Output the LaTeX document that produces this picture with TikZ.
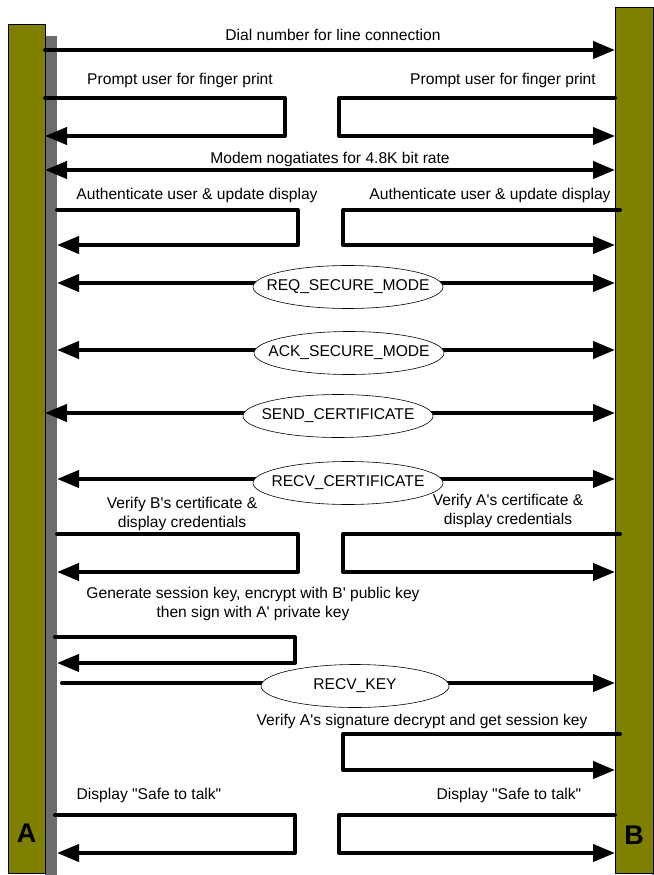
\documentclass[tikz,border=0pt]{standalone}
\usepackage{fontspec}
\setmainfont{Liberation Sans}
\usetikzlibrary{arrows.meta,shapes.geometric}
\definecolor{olivebar}{RGB}{128,128,0}
\definecolor{shadowgray}{RGB}{108,108,108}
\newcommand{\sq}{\textquotesingle}
\newcommand{\dq}{\textquotedbl}
\begin{document}
\begin{tikzpicture}[x=1pt,y=-1pt,
  bar/.style={draw=black, line width=0.6pt, fill=olivebar, inner sep=0pt, outer sep=0pt},
  shadowbar/.style={fill=shadowgray, inner sep=0pt, outer sep=0pt},
  msg/.style={line width=4pt, line join=round, line cap=round},
  tipr/.style={-{Triangle[length=22pt,width=17pt]}},
  tipb/.style={{Triangle[length=22pt,width=17pt]}-{Triangle[length=22pt,width=17pt]}},
  lbl/.style={font=\fontsize{15.6}{19.5}\selectfont, inner sep=0pt, align=center},
  oval/.style={ellipse, draw=black, line width=0.6pt, fill=white, inner sep=0pt,
    minimum width=190pt, minimum height=43pt},
  endlbl/.style={font=\fontsize{27}{30}\bfseries\selectfont, inner sep=0pt}
]
\useasboundingbox (0,0) rectangle (653,875);
% bars
\node[shadowbar, minimum width=12pt, minimum height=839pt, anchor=north west] (shA) at (45,36) {};
\node[bar, minimum width=37pt, minimum height=849pt, anchor=north west] (barA) at (8,24) {};
\node[shadowbar, minimum width=12pt, minimum height=857pt, anchor=north west] (shB) at (652,18) {};
\node[bar, minimum width=38pt, minimum height=866pt, anchor=north west] (barB) at (615,7) {};
\node[endlbl] (labA) at (26.5,833) {A};
\node[endlbl] (labB) at (634,835) {B};

% row 1
\node[lbl] (t1) at (333,35) {Dial number for line connection};
\draw[msg,tipr] (barA.east |- 0,50) -- (barB.west |- 0,50);

% row 2
\node[lbl] (t2a) at (180,80) {Prompt user for finger print};
\node[lbl] (t2b) at (503,80) {Prompt user for finger print};
\draw[msg,tipr] (barA.east |- 0,98) -- (285,98) -- (285,136) -- (barA.east |- 0,136);
\draw[msg,tipr] (barB.west |- 0,98) -- (339,98) -- (339,136) -- (barB.west |- 0,136);

% row 3
\node[lbl] (t3) at (330,159) {Modem nogatiates for 4.8K bit rate};
\draw[msg,tipb] (barA.east |- 0,170) -- (barB.west |- 0,170);

% row 4
\node[lbl] (t4a) at (197,195) {Authenticate user \& update display};
\node[lbl] (t4b) at (490,195) {Authenticate user \& update display};
\draw[msg,tipr] (shA.east |- 0,210) -- (298,210) -- (298,245) -- (shA.east |- 0,245);
\draw[msg,tipr] ([xshift=5pt]barB.west |- 0,210) -- (343,210) -- (343,245) -- (barB.west |- 0,245);

% row 5
\draw[msg,tipb] (shA.east |- 0,283) -- (barB.west |- 0,283);
\node[oval] (req) at (348,287) {};
\node[lbl] (reqt) at (req.center) {REQ\_SECURE\_MODE};

% row 6
\draw[msg,tipb] (shA.east |- 0,350) -- (barB.west |- 0,350);
\node[oval] (ack) at (349,353) {};
\node[lbl] (ackt) at (ack.center) {ACK\_SECURE\_MODE};

% row 7
\draw[msg,tipb] (barA.east |- 0,413) -- (barB.west |- 0,413);
\node[oval] (send) at (338,416) {};
\node[lbl] (sendt) at (send.center) {SEND\_CERTIFICATE};

% row 8
\draw[msg,tipb] (shA.east |- 0,479) -- (barB.west |- 0,479);
\node[oval] (recvc) at (348,483) {};
\node[lbl] (recvct) at (recvc.center) {RECV\_CERTIFICATE};

% row 9
\node[lbl] (t9a) at (182,514) {Verify B\sq s certificate \&\\display credentials};
\node[lbl] (t9b) at (508,511) {Verify A\sq s certificate \&\\display credentials};
\draw[msg,tipr] (shA.east |- 0,534) -- (298,534) -- (298,572) -- (shA.east |- 0,572);
\draw[msg,tipr] ([xshift=5pt]barB.west |- 0,534) -- (343,534) -- (343,572) -- (barB.west |- 0,572);

% row 10
\node[lbl] (t10) at (253,604) {Generate session key, encrypt with B\sq\ public key\\then sign with A\sq\ private key};
\draw[msg,tipr] ([xshift=-2pt]shA.east |- 0,637) -- (295,637) -- (295,663) -- (shA.east |- 0,663);

% row 11
\draw[msg,tipr] ([xshift=5pt]shA.east |- 0,683) -- (barB.west |- 0,683);
\node[oval, minimum width=188pt] (recvk) at (355,686) {};
\node[lbl] (recvkt) at (recvk.center) {RECV\_KEY};

% row 12
\node[lbl] (t12) at (422,721) {Verify A\sq s signature decrypt and get session key};
\draw[msg,tipr] ([xshift=5pt]barB.west |- 0,734) -- (343,734) -- (343,770) -- (barB.west |- 0,770);

% row 13
\node[lbl] (t13a) at (149,795) {Display \dq Safe to talk\dq};
\node[lbl] (t13b) at (509,795) {Display \dq Safe to talk\dq};
\draw[msg,tipr] ([xshift=-2pt]shA.east |- 0,815) -- (295,815) -- (295,853) -- (shA.east |- 0,853);
\draw[msg,tipr] (barB.west |- 0,815) -- (339,815) -- (339,853) -- (barB.west |- 0,853);
\end{tikzpicture}
\end{document}
